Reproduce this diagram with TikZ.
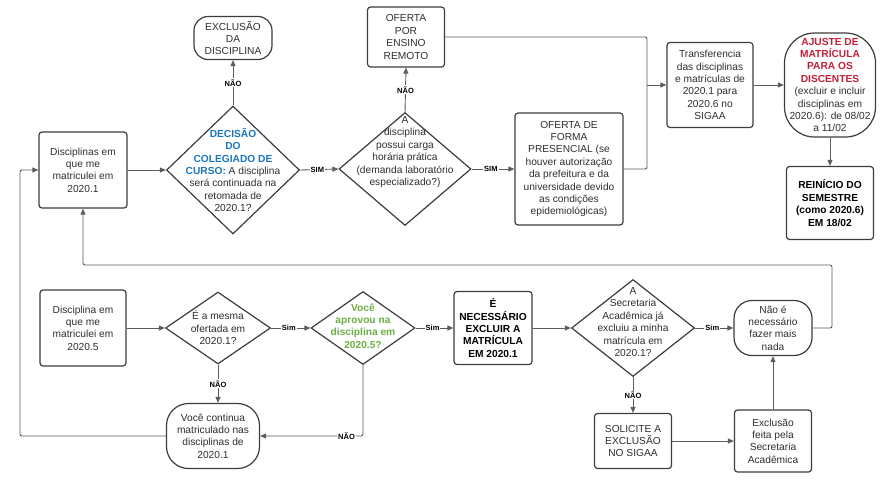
\documentclass[tikz,border=0pt]{standalone}
\usepackage{fontspec}
\setmainfont{Liberation Sans}
\usepackage{tikz}
\usetikzlibrary{shapes.geometric,arrows.meta}
\definecolor{cinzalinha}{HTML}{5C5C5C}
\definecolor{cinzaborda}{HTML}{3C3C3C}
\definecolor{cinzatexto}{HTML}{2E2E2E}
\definecolor{azulcol}{HTML}{1B75BC}
\definecolor{vermelhoaj}{HTML}{C3203A}
\definecolor{verdeaprov}{HTML}{6DAE45}
\newcommand{\emazul}[1]{\textcolor{azulcol}{\textbf{#1}}}
\newcommand{\emverm}[1]{\textcolor{vermelhoaj}{\textbf{#1}}}
\newcommand{\emverde}[1]{\textcolor{verdeaprov}{\textbf{#1}}}

\begin{document}
\begin{tikzpicture}[x=1pt,y=-1pt,
  font=\fontsize{10.2}{12.4}\selectfont, text=cinzatexto,
  caixa/.style={draw=cinzaborda, line width=1.2pt, rounded corners=3pt, align=center, inner sep=0pt},
  losango/.style={diamond, draw=cinzaborda, line width=1.2pt, inner sep=0pt},
  texto/.style={align=center, inner sep=0pt},
  seta/.style={draw=cinzalinha, line width=0.9pt, -{Triangle[length=6pt,width=5pt]}},
  fio/.style={draw=cinzalinha, line width=0.9pt, rounded corners=2pt},
  rotulo/.style={fill=white, inner sep=1pt, text=black, font=\fontsize{7.5}{9}\selectfont\bfseries}]
\useasboundingbox (0,0) rectangle (890,482);

% parte de cima
\node[caixa, minimum width=88pt, minimum height=76pt] (disc1) at (83,170) {Disciplinas em\\que me\\matriculei em\\2020.1};
\node[losango, minimum width=133pt, minimum height=128pt] (dec1) at (233,170) {};
\node[texto] (dec1txt) at (233,170) {\emazul{DECISÃO}\\\emazul{DO}\\\emazul{COLEGIADO DE}\\\emazul{CURSO:} A disciplina\\será continuada na\\retomada de\\2020.1?};
\node[caixa, rounded corners=14pt, minimum width=78pt, minimum height=43pt] (excl) at (233,38) {EXCLUSÃO\\DA\\DISCIPLINA};
\node[losango, minimum width=132pt, minimum height=113pt] (dec2) at (405,169) {};
\node[texto] (dec2txt) at (405,152) {A\\disciplina\\possui carga\\horária prática\\(demanda laboratório\\especializado?)};
\node[caixa, minimum width=77pt, minimum height=60pt] (remoto) at (406,37) {OFERTA\\POR\\ENSINO\\REMOTO};
\node[caixa, minimum width=108pt, minimum height=112pt] (presencial) at (569,169) {OFERTA DE\\FORMA\\PRESENCIAL (se\\houver autorização\\da prefeitura e da\\universidade devido\\as condições\\epidemiológicas)};
\coordinate (juncao) at (647,85);
\node[caixa, minimum width=86pt, minimum height=85pt] (transf) at (710,85) {Transferencia\\das disciplinas\\e matrículas de\\2020.1 para\\2020.6 no\\SIGAA};
\node[caixa, rounded corners=30pt, minimum width=91pt, minimum height=104pt] (ajuste) at (830,85) {\emverm{AJUSTE DE}\\\emverm{MATRÍCULA}\\\emverm{PARA OS}\\\emverm{DISCENTES}\\(excluir e incluir\\disciplinas em\\2020.6): de 08/02\\a 11/02};
\node[caixa, font=\fontsize{10.2}{12.4}\selectfont\bfseries, text=black, minimum width=87pt, minimum height=73pt] (reinicio) at (830,203) {REINÍCIO DO\\SEMESTRE\\(como 2020.6)\\EM 18/02};

% parte de baixo
\node[caixa, minimum width=86pt, minimum height=76pt] (disc5) at (83,328) {Disciplina em\\que me\\matriculei em\\2020.5};
\node[losango, minimum width=105pt, minimum height=72pt] (dec3) at (218,328) {};
\node[texto] (dec3txt) at (218,328) {É a mesma\\ofertada em\\2020.1?};
\node[losango, minimum width=104pt, minimum height=73pt] (dec4) at (363,328) {};
\node[texto] (dec4txt) at (363,326) {\emverde{Você}\\\emverde{aprovou na}\\\emverde{disciplina em}\\\emverde{2020.5?}};
\node[caixa, font=\fontsize{10.2}{12.4}\selectfont\bfseries, text=black, minimum width=78pt, minimum height=73pt] (necess) at (493,328) {É\\NECESSÁRIO\\EXCLUIR A\\MATRÍCULA\\EM 2020.1};
\node[losango, minimum width=123pt, minimum height=97pt] (dec5) at (633,328) {};
\node[texto] (dec5txt) at (633,322) {A\\Secretaria\\Acadêmica já\\excluiu a minha\\matrícula em\\2020.1?};
\node[caixa, rounded corners=18pt, minimum width=78pt, minimum height=55pt] (nada) at (773,328) {Não é\\necessário\\fazer mais\\nada};
\node[caixa, minimum width=77pt, minimum height=55pt] (solicite) at (633,441) {SOLICITE A\\EXCLUSÃO\\NO SIGAA};
\node[caixa, minimum width=77pt, minimum height=62pt] (exclfeita) at (773,441) {Exclusão\\feita pela\\Secretaria\\Acadêmica};
\node[caixa, rounded corners=22pt, minimum width=93pt, minimum height=65pt] (continua) at (213,436) {Você continua\\matriculado nas\\disciplinas de\\2020.1};
\coordinate (retornoD) at (832,265);
\coordinate (retornoE) at (20,170);

% ligacoes de cima
\draw[seta] (disc1.east) -- (dec1.west);
\draw[seta] (dec1.north) -- node[rotulo] {NÃO} (excl.south);
\draw[seta] (dec1.east) -- node[rotulo, pos=0.45] {SIM} (dec2.west);
\draw[seta] (dec2.north) -- node[rotulo] {NÃO} (remoto.south);
\draw[seta] (dec2.east) -- node[rotulo, pos=0.45] {SIM} (presencial.west);
\draw[fio] (remoto.east) -| (juncao) |- (presencial.east);
\draw[seta] (juncao) -- (transf.west);
\draw[seta] (transf.east) -- (ajuste.west);
\draw[seta] (ajuste.south) -- (reinicio.north);

% ligacoes de baixo
\draw[seta] (disc5.east) -- (dec3.west);
\draw[seta] (dec3.east) -- node[rotulo, pos=0.45] {Sim} (dec4.west);
\draw[seta] (dec4.east) -- node[rotulo, pos=0.45] {Sim} (necess.west);
\draw[seta] (necess.east) -- (dec5.west);
\draw[seta] (dec5.east) -- node[rotulo, pos=0.45] {Sim} (nada.west);
\draw[seta] (dec5.south) -- node[rotulo] {NÃO} (solicite.north);
\draw[seta] (solicite.east) -- (exclfeita.west);
\draw[seta] (exclfeita.north) -- (nada.south);
\draw[seta] (dec3.south) -- node[rotulo] {NÃO} (dec3.south |- continua.north);
\draw[seta, rounded corners=2pt] (dec4.south) |- node[rotulo, pos=0.58] {NÃO} (continua.east);
\draw[seta, rounded corners=2pt] (nada.east) -| (retornoD) -| (disc1.south);
\draw[seta, rounded corners=2pt] (continua.west) -| (retornoE) -- (disc1.west);
\end{tikzpicture}
\end{document}
